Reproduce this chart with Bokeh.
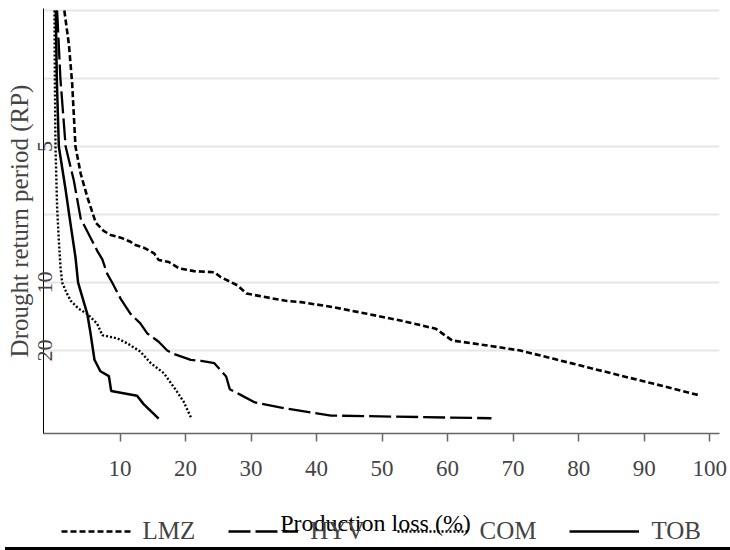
from bokeh.plotting import figure
from bokeh.models import FixedTicker, Legend, LegendItem, Range1d, Div, Label
from bokeh.layouts import column
from bokeh.embed import file_html
from bokeh.resources import INLINE

# Production loss (%) and exceedance probability (1/RP)
lmz_loss = [1.5, 2.2, 2.7, 3.2, 4.0, 5.0, 5.75, 6.3, 7.5, 8.55, 10.1, 11.6, 12.1, 13.6, 15.2, 15.9,
            17.45, 19.0, 21.3, 24.4, 25.3, 27.9, 29.3, 31.4, 35.5, 37.6, 42.6, 47.7, 52.8, 58.2,
            60.7, 66.1, 71.1, 76.2, 81.3, 86.4, 91.5, 98.6]
lmz_prob = [0.300, 0.275, 0.246, 0.200, 0.180, 0.163, 0.152, 0.144, 0.138, 0.135, 0.133, 0.130,
            0.128, 0.1257, 0.1215, 0.1166, 0.1151, 0.1104, 0.1084, 0.1076, 0.1042, 0.098, 0.092,
            0.090, 0.0864, 0.0856, 0.0819, 0.077, 0.0721, 0.066, 0.0574, 0.0537, 0.050, 0.0439,
            0.0377, 0.0316, 0.0255, 0.0169]

hyv_loss = [0.4, 0.9, 1.7, 2.95, 4.0, 5.5, 6.5, 7.3, 8.05, 8.8, 10.1, 11.6, 13.1, 14.15, 15.9,
            17.2, 18.2, 20.8, 22.4, 24.4, 26.2, 26.75, 28.4, 30.6, 35.0, 42.2, 66.7]
hyv_prob = [0.300, 0.250, 0.200, 0.175, 0.147, 0.133, 0.1235, 0.117, 0.1064, 0.100, 0.088, 0.077,
            0.070, 0.0626, 0.0565, 0.050, 0.0475, 0.0431, 0.0424, 0.0407, 0.0309, 0.0216, 0.0174,
            0.0118, 0.0076, 0.0022, 0.0002]

com_loss = [0.0, 0.05, 0.15, 0.4, 0.66, 0.92, 1.17, 1.7, 2.45, 3.7, 5.0, 6.5, 7.3, 9.6, 11.1,
            13.1, 14.7, 16.7, 18.5, 19.7, 20.9]
com_prob = [0.300, 0.250, 0.200, 0.155, 0.131, 0.111, 0.100, 0.094, 0.0867, 0.0807, 0.077,
            0.0698, 0.0613, 0.0589, 0.0553, 0.0493, 0.0407, 0.0333, 0.0211, 0.0125, 0.0]

tob_loss = [0.2, 0.35, 0.66, 1.7, 2.45, 3.2, 3.6, 5.0, 5.5, 6.1, 7.0, 8.3, 8.65, 12.6, 13.6, 15.9]
tob_prob = [0.300, 0.250, 0.200, 0.168, 0.143, 0.1186, 0.100, 0.077, 0.0626, 0.0432, 0.0348,
            0.0312, 0.0203, 0.0167, 0.0106, 0.0]

series_names = ["LMZ", "HYV", "COM", "TOB"]
x_ticks = [10, 20, 30, 40, 50, 60, 70, 80, 90, 100]
rp_grid_prob = [0.05, 0.10, 0.15, 0.20, 0.25, 0.30]
rp_tick_prob = [0.2, 0.1, 0.05]
rp_tick_labels = ["5", "10", "20"]
x_title = "Production loss (%)"
y_title = "Drought return period (RP)"

FONT = "Liberation Serif"
STYLES = [dict(line_color="black", line_width=2.6, line_dash="6 3"),
          dict(line_color="black", line_width=2.3, line_dash="22 5"),
          dict(line_color="black", line_width=2.4, line_dash="2 2"),
          dict(line_color="black", line_width=2.5)]
ALL_X = [lmz_loss, hyv_loss, com_loss, tob_loss]
ALL_Y = [lmz_prob, hyv_prob, com_prob, tob_prob]

x_rng = Range1d(-1.68, 101.5)

p = figure(width=730, height=500, output_backend="svg", toolbar_location=None,
           x_range=x_rng, y_range=Range1d(-0.011, 0.3015),
           min_border_left=43, min_border_right=11, min_border_top=8, min_border_bottom=67)
p.outline_line_color = None
p.background_fill_color = "white"

for xs, ys, st in zip(ALL_X, ALL_Y, STYLES):
    p.line(xs, ys, **st)

# grids
p.xgrid.visible = False
p.ygrid.ticker = FixedTicker(ticks=rp_grid_prob)
p.ygrid.grid_line_color = "#e6e6e6"
p.ygrid.grid_line_width = 2

# x axis
xa = p.xaxis[0]
xa.ticker = FixedTicker(ticks=x_ticks)
xa.major_label_text_font = FONT
xa.major_label_text_font_size = "23px"
xa.major_label_standoff = 19
xa.major_tick_out = 8
xa.major_tick_in = 0
xa.minor_tick_out = 0
xa.minor_tick_in = 0
xa.axis_line_color = "#666666"
xa.axis_line_width = 1.5
xa.major_tick_line_color = "#666666"
xa.major_tick_line_width = 1.5

# y axis
ya = p.yaxis[0]
ya.ticker = FixedTicker(ticks=rp_tick_prob)
ya.major_label_overrides = {t: s for t, s in zip(rp_tick_prob, rp_tick_labels)}
ya.major_label_orientation = "vertical"
ya.major_label_text_font = FONT
ya.major_label_text_font_size = "22px"
ya.major_label_standoff = -9
ya.major_tick_out = 0
ya.major_tick_in = 0
ya.minor_tick_out = 0
ya.minor_tick_in = 0
ya.axis_line_color = "black"
ya.axis_line_width = 1
ya.axis_label = y_title
ya.axis_label_text_font = FONT
ya.axis_label_text_font_size = "25px"
ya.axis_label_text_font_style = "normal"
ya.axis_label_standoff = 3

# bottom strip: x-axis title and legend (overlapping, as in the original)
pl = figure(width=730, height=42, output_backend="svg", toolbar_location=None,
            x_axis_type=None, y_axis_type=None, x_range=x_rng, y_range=Range1d(0, 1),
            min_border_left=43, min_border_right=11, min_border_top=0, min_border_bottom=0)
pl.outline_line_color = None
pl.extra_y_ranges = {"keys": Range1d(10, 11)}   # legend keys only; series kept out of view
keys = [pl.line(xs, ys, y_range_name="keys", **st) for xs, ys, st in zip(ALL_X, ALL_Y, STYLES)]

pl.add_layout(Label(x=49.0, y=0.476, text=x_title, text_align="center", text_baseline="middle",
                    text_font=FONT, text_font_size="24px", text_color="black"))

legend = Legend(items=[LegendItem(label=n, renderers=[r]) for n, r in zip(series_names, keys)],
                orientation="horizontal", location=(17.5, -4))
legend.label_text_font = FONT
legend.label_text_font_size = "25px"
legend.glyph_width = 70
legend.glyph_height = 30
legend.label_height = 30
legend.label_standoff = 12
legend.spacing = 33
legend.padding = 0
legend.margin = 0
legend.border_line_color = None
legend.background_fill_alpha = 0
pl.add_layout(legend)

strip = Div(text="", width=730, height=8, styles={"background-color": "black"})
layout = column(p, pl, strip, spacing=0)

open("out.html", "w").write(file_html(layout, INLINE))
